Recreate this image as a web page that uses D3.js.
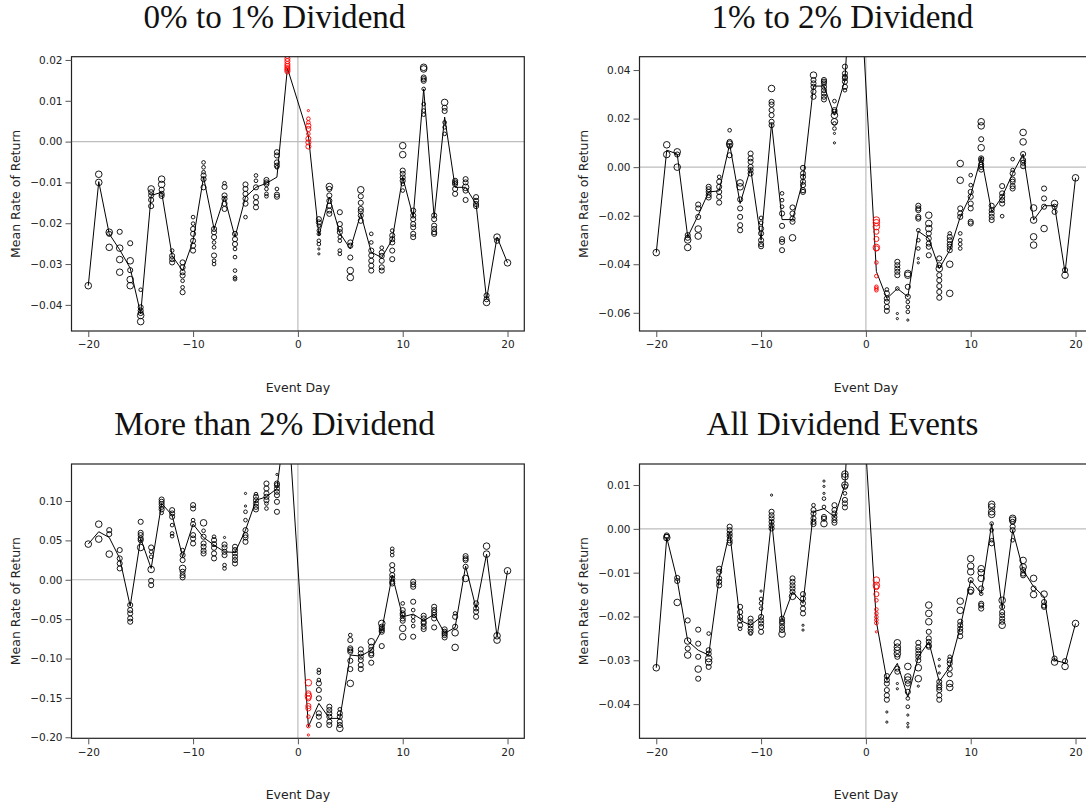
<!DOCTYPE html>
<html>
<head>
<meta charset="utf-8">
<script src="https://cdnjs.cloudflare.com/ajax/libs/d3/7.8.5/d3.min.js"></script>
<style>
  body { margin: 0; background: #fff; }
  text { font-family: "DejaVu Sans", sans-serif; fill: #222; }
  .title { font-family: "Liberation Serif", serif; fill: #111; }
  .tick line { stroke: #555; }
  .tick text { font-size: 10.5px; fill: #222; }
</style>
</head>
<body>
<div id="graph"></div>
<script>
// event days (day 0 itself is not in the data)
var days = [-20,-19,-18,-17,-16,-15,-14,-13,-12,-11,-10,-9,-8,-7,-6,-5,-4,-3,-2,-1,
            1,2,3,4,5,6,7,8,9,10,11,12,13,14,15,16,17,18,19,20];
var redDays = [-1, 1];
var titles = ["0% to 1% Dividend", "1% to 2% Dividend", "More than 2% Dividend", "All Dividend Events"];
var xTicks = [-20, -10, 0, 10, 20];
var yTicks1 = [-0.04, -0.03, -0.02, -0.01, 0, 0.01, 0.02];
var yTicks2 = [-0.06, -0.04, -0.02, 0, 0.02, 0.04];
var yTicks3 = [-0.20, -0.15, -0.10, -0.05, 0, 0.05, 0.10];
var yTicks4 = [-0.04, -0.03, -0.02, -0.01, 0, 0.01];

// mean rate of return per day
var mean1 = [-0.0353,-0.0098,-0.0226,-0.0265,-0.0310,-0.0422,-0.0132,-0.0124,-0.0280,-0.0316,-0.0243,-0.0087,-0.0214,-0.0136,-0.0234,-0.0136,-0.0112,-0.0102,-0.0087,0.0180,
             0.0015,-0.0230,-0.0136,-0.0224,-0.0263,-0.0177,-0.0271,-0.0284,-0.0240,-0.0087,-0.0185,0.0129,-0.0185,0.0060,-0.0112,-0.0112,-0.0153,-0.0386,-0.0234,-0.0297];
var mean2 = [-0.0352,0.0070,0.0054,-0.0287,-0.0198,-0.0102,-0.0098,0.0095,-0.0150,-0.0005,-0.0301,0.0180,-0.0216,-0.0216,-0.0054,0.0334,0.0334,0.0214,0.0359,0.110,
             -0.0430,-0.0541,-0.0500,-0.0534,-0.0264,-0.0294,-0.0418,-0.0342,-0.0205,-0.0115,0.0043,-0.0184,-0.0122,-0.0026,0.0054,-0.0218,-0.0159,-0.0159,-0.0434,-0.0044];
var mean3 = [0.0453,0.0610,0.0537,0.0271,-0.0334,0.0524,0.0144,0.0969,0.0820,0.0292,0.0706,0.0537,0.0440,0.0355,0.0347,0.0630,0.1010,0.1053,0.1159,0.221,
             -0.1865,-0.1570,-0.1760,-0.1760,-0.0956,-0.0969,-0.0893,-0.0639,0.0059,-0.0470,-0.0436,-0.0520,-0.0440,-0.0681,-0.0605,0.0173,-0.0364,0.0326,-0.0723,0.0114];
var mean4 = [-0.0317,-0.0020,-0.0117,-0.0256,-0.0277,-0.0288,-0.0112,-0.0007,-0.0209,-0.0220,-0.0201,0.0020,-0.0209,-0.0144,-0.0170,0.0039,0.0046,0.0027,0.0100,0.0565,
             -0.0212,-0.0345,-0.0307,-0.0384,-0.0292,-0.0258,-0.0349,-0.0315,-0.0224,-0.0117,-0.0148,0.0012,-0.0182,-0.0003,-0.0094,-0.0132,-0.0155,-0.0300,-0.0306,-0.0216];

// sub-group returns per day: [value, weight]
var points1 = [
  [[-0.0353,4]],
  [[-0.0080,4],[-0.0100,4]],
  [[-0.0222,4],[-0.0226,3],[-0.0259,4]],
  [[-0.0221,3],[-0.0261,4],[-0.0289,4],[-0.0320,4]],
  [[-0.0249,3],[-0.0292,4],[-0.0315,3],[-0.0338,4],[-0.0353,4]],
  [[-0.0363,2],[-0.0406,3],[-0.0414,3],[-0.0420,3],[-0.0426,4],[-0.0441,4]],
  [[-0.0116,4],[-0.0124,3],[-0.0132,3],[-0.0143,3],[-0.0158,3]],
  [[-0.0092,4],[-0.0105,4],[-0.0118,3],[-0.0128,3],[-0.0133,3]],
  [[-0.0267,2],[-0.0280,3],[-0.0288,3],[-0.0296,3]],
  [[-0.0296,3],[-0.0308,3],[-0.0320,3],[-0.0328,3],[-0.0341,2],[-0.0357,2],[-0.0369,3]],
  [[-0.0185,2],[-0.0201,2],[-0.0214,3],[-0.0226,3],[-0.0243,3],[-0.0255,3],[-0.0267,3]],
  [[-0.0051,2],[-0.0063,2],[-0.0075,2],[-0.0083,3],[-0.0092,3],[-0.0112,3]],
  [[-0.0214,3],[-0.0222,3],[-0.0234,3],[-0.0247,2],[-0.0259,2],[-0.0279,3],[-0.0292,2],[-0.0300,2]],
  [[-0.0102,2],[-0.0111,3],[-0.0132,3],[-0.0140,3],[-0.0152,3],[-0.0165,3]],
  [[-0.0226,3],[-0.0239,3],[-0.0251,3],[-0.0263,2],[-0.0283,2],[-0.0316,2],[-0.0333,2],[-0.0337,2]],
  [[-0.0105,3],[-0.0116,3],[-0.0128,3],[-0.0140,3],[-0.0152,3],[-0.0185,2]],
  [[-0.0083,2],[-0.0096,2],[-0.0112,3],[-0.0136,3],[-0.0149,3],[-0.0161,3]],
  [[-0.0094,3],[-0.0100,3],[-0.0104,3],[-0.0116,2],[-0.0128,2],[-0.0134,2]],
  [[-0.0026,3],[-0.0034,3],[-0.0051,3],[-0.0059,3],[-0.0063,2],[-0.0116,2],[-0.0130,3],[-0.0135,3]],
  [[0.0210,3],[0.0203,3],[0.0197,3],[0.0190,3],[0.0185,3],[0.0180,3],[0.0176,3],[0.0172,3]],
  [[0.0076,1],[0.0056,2],[0.0047,2],[0.0039,3],[0.0031,3],[0.0019,2],[0.0007,3],[-0.0002,3],[-0.0012,3]],
  [[-0.0190,3],[-0.0198,3],[-0.0206,2],[-0.0218,2],[-0.0226,2],[-0.0243,2],[-0.0251,2],[-0.0263,1],[-0.0275,1]],
  [[-0.0110,4],[-0.0116,3],[-0.0132,3],[-0.0145,3],[-0.0157,3],[-0.0169,3],[-0.0177,3]],
  [[-0.0173,3],[-0.0202,3],[-0.0214,3],[-0.0222,3],[-0.0234,2],[-0.0243,2],[-0.0267,2],[-0.0275,2]],
  [[-0.0247,3],[-0.0255,3],[-0.0284,3],[-0.0316,4],[-0.0333,4]],
  [[-0.0118,4],[-0.0134,3],[-0.0150,3],[-0.0165,3],[-0.0171,3],[-0.0181,3],[-0.0194,3]],
  [[-0.0226,2],[-0.0247,2],[-0.0267,3],[-0.0279,3],[-0.0292,3],[-0.0304,3],[-0.0316,3]],
  [[-0.0260,2],[-0.0272,3],[-0.0280,3],[-0.0292,3],[-0.0308,3],[-0.0316,3]],
  [[-0.0218,2],[-0.0230,3],[-0.0239,3],[-0.0247,3],[-0.0267,3],[-0.0288,3]],
  [[-0.0010,4],[-0.0032,4],[-0.0071,3],[-0.0079,3],[-0.0088,3],[-0.0096,3],[-0.0104,2],[-0.0120,2]],
  [[-0.0169,3],[-0.0181,3],[-0.0190,3],[-0.0202,3],[-0.0210,3],[-0.0226,3],[-0.0234,3]],
  [[0.0182,4],[0.0178,4],[0.0157,3],[0.0153,3],[0.0149,3],[0.0129,2],[0.0092,2],[0.0076,2],[0.0066,2]],
  [[-0.0181,3],[-0.0190,3],[-0.0206,3],[-0.0214,3],[-0.0222,3],[-0.0226,3]],
  [[0.0096,4],[0.0083,3],[0.0075,3],[0.0047,2],[0.0035,2],[0.0019,2]],
  [[-0.0096,3],[-0.0100,3],[-0.0104,3],[-0.0116,3],[-0.0128,3]],
  [[-0.0092,3],[-0.0100,3],[-0.0112,4],[-0.0120,3],[-0.0143,3]],
  [[-0.0136,3],[-0.0145,3],[-0.0153,3],[-0.0158,3]],
  [[-0.0377,3],[-0.0386,3],[-0.0394,4]],
  [[-0.0234,4],[-0.0243,3]],
  [[-0.0297,4]]
];
var points2 = [
  [[-0.0352,4]],
  [[0.0092,4],[0.0052,4]],
  [[0.0063,4],[0.0052,3],[0.0000,4]],
  [[-0.0280,3],[-0.0291,3],[-0.0300,4],[-0.0331,4]],
  [[-0.0154,3],[-0.0170,3],[-0.0205,3],[-0.0255,4],[-0.0284,4]],
  [[-0.0081,3],[-0.0091,3],[-0.0102,3],[-0.0115,3],[-0.0125,3]],
  [[-0.0040,2],[-0.0060,3],[-0.0081,3],[-0.0102,3],[-0.0122,3],[-0.0146,3]],
  [[0.0152,2],[0.0104,3],[0.0095,4],[0.0087,3],[0.0049,3]],
  [[-0.0065,4],[-0.0081,4],[-0.0133,3],[-0.0170,3],[-0.0205,3],[-0.0239,3],[-0.0260,3]],
  [[0.0056,3],[0.0036,3],[0.0022,3],[0.0001,3],[-0.0012,3],[-0.0026,3]],
  [[-0.0209,2],[-0.0229,2],[-0.0253,3],[-0.0273,3],[-0.0301,3],[-0.0317,3],[-0.0326,3]],
  [[0.0324,4],[0.0269,3],[0.0258,3],[0.0235,3],[0.0214,3],[0.0187,3],[0.0173,3]],
  [[-0.0108,2],[-0.0136,2],[-0.0163,2],[-0.0191,3],[-0.0242,3],[-0.0297,3],[-0.0308,3],[-0.0342,3]],
  [[-0.0166,3],[-0.0191,3],[-0.0212,3],[-0.0225,3],[-0.0291,4]],
  [[-0.0003,3],[-0.0026,3],[-0.0040,3],[-0.0060,3],[-0.0074,3],[-0.0095,3],[-0.0102,3]],
  [[0.0379,4],[0.0359,3],[0.0345,3],[0.0331,3],[0.0311,3],[0.0290,3]],
  [[0.0359,3],[0.0352,3],[0.0345,3],[0.0331,3],[0.0317,3],[0.0304,3],[0.0290,3],[0.0279,3]],
  [[0.0272,2],[0.0235,3],[0.0228,3],[0.0214,4],[0.0187,4],[0.0180,2],[0.0159,2],[0.0139,1],[0.0100,1]],
  [[0.0414,3],[0.0386,3],[0.0372,3],[0.0366,3],[0.0352,3],[0.0331,3],[0.0317,2]],
  [[0.115,3],[0.105,3],[0.098,3]],
  [[-0.0218,4],[-0.0229,4],[-0.0245,4],[-0.0266,3],[-0.0296,3],[-0.0331,4],[-0.0335,3],[-0.0393,2],[-0.0449,2],[-0.0493,2],[-0.0500,2],[-0.0507,2]],
  [[-0.0504,2],[-0.0520,3],[-0.0541,3],[-0.0555,3],[-0.0576,3],[-0.0592,3]],
  [[-0.0390,3],[-0.0404,3],[-0.0418,3],[-0.0431,3],[-0.0445,3],[-0.0500,2],[-0.0603,1],[-0.0624,1]],
  [[-0.0438,4],[-0.0445,4],[-0.0493,3],[-0.0534,3],[-0.0555,2],[-0.0576,2],[-0.0596,2],[-0.0630,1]],
  [[-0.0159,3],[-0.0170,3],[-0.0177,3],[-0.0205,3],[-0.0212,3],[-0.0260,2],[-0.0301,2],[-0.0335,2],[-0.0376,1],[-0.0394,1]],
  [[-0.0198,4],[-0.0232,4],[-0.0253,4],[-0.0273,3],[-0.0294,3],[-0.0315,3],[-0.0328,3],[-0.0363,3]],
  [[-0.0376,3],[-0.0404,3],[-0.0418,4],[-0.0445,3],[-0.0466,3],[-0.0490,3],[-0.0514,3],[-0.0538,3]],
  [[-0.0273,2],[-0.0287,3],[-0.0301,3],[-0.0317,3],[-0.0328,3],[-0.0342,3],[-0.0400,4],[-0.0520,4]],
  [[0.0015,4],[-0.0054,4],[-0.0170,3],[-0.0191,3],[-0.0205,3],[-0.0273,2],[-0.0301,2],[-0.0317,2],[-0.0335,2]],
  [[-0.0033,2],[-0.0074,2],[-0.0102,3],[-0.0122,3],[-0.0150,3],[-0.0170,3],[-0.0225,3],[-0.0232,3]],
  [[0.0187,4],[0.0170,4],[0.0115,3],[0.0080,4],[0.0036,3],[0.0029,3],[0.0012,3],[0.0001,3],[-0.0010,3]],
  [[-0.0159,3],[-0.0177,3],[-0.0191,3],[-0.0205,3],[-0.0218,3]],
  [[-0.0078,3],[-0.0108,3],[-0.0122,3],[-0.0136,3],[-0.0150,3],[-0.0202,2]],
  [[0.0033,2],[-0.0012,2],[-0.0026,3],[-0.0051,3],[-0.0060,3],[-0.0078,3],[-0.0088,3]],
  [[0.0143,4],[0.0104,4],[0.0054,3],[0.0029,3],[0.0018,3],[0.0004,3]],
  [[-0.0168,4],[-0.0218,4],[-0.0287,4],[-0.0321,4]],
  [[-0.0088,3],[-0.0129,3],[-0.0163,3],[-0.0253,4]],
  [[-0.0150,4],[-0.0163,3],[-0.0184,3]],
  [[-0.0424,3],[-0.0445,4]],
  [[-0.0044,4]]
];
var points3 = [
  [[0.0453,4]],
  [[0.0706,4],[0.0516,4]],
  [[0.0630,3],[0.0580,3],[0.0326,4]],
  [[0.0377,3],[0.0271,3],[0.0207,3],[0.0144,3]],
  [[-0.0321,3],[-0.0385,3],[-0.0427,3],[-0.0491,3],[-0.0533,3]],
  [[0.0736,3],[0.0596,3],[0.0567,3],[0.0524,3],[0.0503,3],[0.0410,4]],
  [[0.0410,3],[0.0355,2],[0.0292,2],[0.0131,4],[-0.0013,3],[-0.0068,3]],
  [[0.1019,3],[0.0990,3],[0.0960,3],[0.0926,3],[0.0893,3],[0.0850,2]],
  [[0.0884,3],[0.0842,3],[0.0800,3],[0.0694,2],[0.0588,2],[0.0554,2]],
  [[0.0377,2],[0.0313,3],[0.0250,3],[0.0144,4],[0.0102,3],[0.0059,3],[0.0030,3]],
  [[0.0948,3],[0.0905,3],[0.0757,2],[0.0706,3],[0.0567,3],[0.0524,3],[0.0461,3]],
  [[0.0723,4],[0.0622,2],[0.0546,3],[0.0461,3],[0.0419,3],[0.0368,3],[0.0334,3]],
  [[0.0546,2],[0.0503,3],[0.0453,3],[0.0406,3],[0.0334,3],[0.0271,3]],
  [[0.0537,1],[0.0448,3],[0.0410,3],[0.0355,3],[0.0313,3],[0.0186,2],[0.0144,2]],
  [[0.0419,3],[0.0377,3],[0.0334,3],[0.0292,3],[0.0250,3],[0.0207,3]],
  [[0.1096,1],[0.0936,1],[0.0863,2],[0.0757,2],[0.0630,3],[0.0567,3],[0.0537,3],[0.0482,3]],
  [[0.1087,2],[0.1053,3],[0.1010,3],[0.0968,3],[0.0926,3],[0.0893,3]],
  [[0.1222,3],[0.1159,3],[0.1096,3],[0.1053,3],[0.1010,3],[0.0968,2],[0.0905,2]],
  [[0.1337,1],[0.1222,3],[0.1201,3],[0.1159,3],[0.1117,3],[0.1074,3],[0.0990,3],[0.0863,3]],
  [[0.235,3],[0.220,3],[0.210,3]],
  [[-0.1307,4],[-0.1443,3],[-0.1477,4],[-0.1506,3],[-0.1603,3],[-0.1633,3],[-0.1739,2],[-0.1857,2],[-0.1971,1]],
  [[-0.1146,2],[-0.1180,2],[-0.1273,2],[-0.1316,3],[-0.1400,3],[-0.1506,3],[-0.1696,3],[-0.1739,3],[-0.1844,3]],
  [[-0.1612,3],[-0.1654,3],[-0.1696,3],[-0.1739,3],[-0.1802,3],[-0.1844,3]],
  [[-0.1645,2],[-0.1696,3],[-0.1739,3],[-0.1802,3],[-0.1844,3],[-0.1887,4]],
  [[-0.0702,2],[-0.0766,3],[-0.0871,3],[-0.0893,3],[-0.0914,3],[-0.1028,3],[-0.1134,3],[-0.1316,4]],
  [[-0.0884,3],[-0.0935,3],[-0.0977,3],[-0.1020,3],[-0.1083,3],[-0.1134,3]],
  [[-0.0787,4],[-0.0850,3],[-0.0893,3],[-0.0935,3],[-0.0956,3],[-0.1053,3]],
  [[-0.0554,4],[-0.0596,3],[-0.0617,3],[-0.0639,3],[-0.0660,3],[-0.0842,3]],
  [[0.0393,2],[0.0355,2],[0.0313,2],[0.0186,3],[0.0123,3],[0.0059,3],[0.0017,3],[-0.0025,3],[-0.0047,3]],
  [[-0.0300,2],[-0.0385,3],[-0.0427,3],[-0.0448,3],[-0.0491,3],[-0.0520,3],[-0.0617,4],[-0.0723,4]],
  [[-0.0025,3],[-0.0059,3],[-0.0089,3],[-0.0279,3],[-0.0385,2],[-0.0470,2],[-0.0520,2],[-0.0588,2],[-0.0723,3]],
  [[-0.0457,3],[-0.0491,3],[-0.0533,3],[-0.0554,3],[-0.0596,3],[-0.0626,3]],
  [[-0.0343,3],[-0.0385,3],[-0.0414,3],[-0.0448,3],[-0.0491,3],[-0.0605,3]],
  [[-0.0630,3],[-0.0660,3],[-0.0681,3],[-0.0702,3],[-0.0732,3]],
  [[-0.0427,2],[-0.0470,3],[-0.0596,3],[-0.0673,4],[-0.0859,4]],
  [[0.0300,3],[0.0271,3],[0.0250,3],[0.0165,3],[0.0017,4]],
  [[-0.0300,3],[-0.0364,3],[-0.0406,3],[-0.0470,3]],
  [[0.0427,4],[0.0326,4]],
  [[-0.0711,4],[-0.0766,4]],
  [[0.0114,4]]
];
var points4 = [
  [[-0.0317,4]],
  [[-0.0015,3],[-0.0018,3],[-0.0020,4]],
  [[-0.0112,3],[-0.0119,3],[-0.0168,4]],
  [[-0.0209,3],[-0.0256,4],[-0.0273,3],[-0.0288,4]],
  [[-0.0230,3],[-0.0262,3],[-0.0292,3],[-0.0320,4],[-0.0342,3]],
  [[-0.0239,2],[-0.0277,3],[-0.0285,3],[-0.0296,4],[-0.0304,4],[-0.0315,3]],
  [[-0.0091,3],[-0.0098,3],[-0.0113,3],[-0.0121,3],[-0.0129,3]],
  [[0.0005,3],[-0.0003,3],[-0.0011,3],[-0.0017,3],[-0.0026,3],[-0.0032,3]],
  [[-0.0178,3],[-0.0190,3],[-0.0201,3],[-0.0209,3],[-0.0220,3],[-0.0228,2]],
  [[-0.0205,3],[-0.0213,3],[-0.0220,3],[-0.0228,3],[-0.0235,3],[-0.0239,2]],
  [[-0.0142,1],[-0.0160,2],[-0.0170,2],[-0.0182,2],[-0.0201,3],[-0.0209,3],[-0.0216,3],[-0.0224,3],[-0.0235,3]],
  [[0.0077,1],[0.0039,3],[0.0031,3],[0.0024,3],[0.0016,3],[0.0008,3],[0.0001,3]],
  [[-0.0205,3],[-0.0211,3],[-0.0216,3],[-0.0224,3],[-0.0231,3],[-0.0240,4]],
  [[-0.0113,3],[-0.0121,3],[-0.0129,3],[-0.0136,3],[-0.0144,3],[-0.0154,4]],
  [[-0.0149,3],[-0.0159,3],[-0.0170,3],[-0.0182,3],[-0.0193,3],[-0.0220,1],[-0.0231,1]],
  [[0.0054,2],[0.0043,3],[0.0035,3],[0.0024,3],[0.0016,3],[0.0011,3]],
  [[0.0109,1],[0.0097,1],[0.0081,1],[0.0069,2],[0.0050,2],[0.0027,3],[0.0023,3],[0.0012,4]],
  [[0.0054,3],[0.0043,3],[0.0035,3],[0.0027,3],[0.0020,3],[0.0014,3]],
  [[0.0125,4],[0.0119,4],[0.0100,4],[0.0096,3],[0.0081,2],[0.0066,3],[0.0058,3],[0.0049,3]],
  [[0.065,3],[0.058,3],[0.050,3]],
  [[-0.0117,4],[-0.0129,4],[-0.0133,3],[-0.0149,3],[-0.0163,2],[-0.0184,2],[-0.0193,2],[-0.0201,2],[-0.0208,2],[-0.0215,2],[-0.0235,1]],
  [[-0.0336,3],[-0.0345,3],[-0.0353,3],[-0.0368,3],[-0.0380,3],[-0.0390,3],[-0.0418,1],[-0.0441,1]],
  [[-0.0260,4],[-0.0270,4],[-0.0277,4],[-0.0285,4],[-0.0292,3],[-0.0319,3],[-0.0326,3],[-0.0353,1],[-0.0365,1]],
  [[-0.0314,4],[-0.0338,4],[-0.0345,4],[-0.0353,3],[-0.0372,3],[-0.0387,2],[-0.0406,2],[-0.0425,1],[-0.0444,1],[-0.0452,1]],
  [[-0.0260,3],[-0.0270,3],[-0.0277,3],[-0.0285,3],[-0.0292,3],[-0.0300,3],[-0.0317,4],[-0.0342,4],[-0.0359,1]],
  [[-0.0174,4],[-0.0193,4],[-0.0212,4],[-0.0235,3],[-0.0250,3],[-0.0258,3],[-0.0266,3],[-0.0269,3]],
  [[-0.0298,1],[-0.0313,1],[-0.0329,1],[-0.0349,3],[-0.0357,3],[-0.0362,3],[-0.0368,3],[-0.0380,3],[-0.0390,3]],
  [[-0.0292,2],[-0.0300,3],[-0.0307,3],[-0.0319,3],[-0.0332,3],[-0.0353,4],[-0.0362,4]],
  [[-0.0165,4],[-0.0186,4],[-0.0212,3],[-0.0220,3],[-0.0228,3],[-0.0235,3],[-0.0245,3]],
  [[-0.0068,4],[-0.0085,4],[-0.0098,4],[-0.0117,3],[-0.0140,4],[-0.0144,3]],
  [[-0.0091,4],[-0.0100,4],[-0.0113,4],[-0.0136,3],[-0.0148,2],[-0.0171,3],[-0.0175,3],[-0.0182,3]],
  [[0.0056,4],[0.0050,4],[0.0039,4],[0.0033,4],[0.0012,2],[-0.0003,2],[-0.0026,2],[-0.0033,3]],
  [[-0.0163,4],[-0.0178,3],[-0.0190,3],[-0.0197,3],[-0.0205,3],[-0.0212,3],[-0.0220,4]],
  [[0.0024,4],[0.0020,4],[0.0016,3],[0.0005,3],[-0.0003,3],[-0.0026,2]],
  [[-0.0072,4],[-0.0087,4],[-0.0094,3],[-0.0102,3],[-0.0106,3]],
  [[-0.0113,4],[-0.0136,3],[-0.0150,4]],
  [[-0.0149,4],[-0.0167,3],[-0.0175,3],[-0.0178,3]],
  [[-0.0296,3],[-0.0304,4]],
  [[-0.0302,3],[-0.0314,4]],
  [[-0.0216,4]]
];

// panel setup
var panels = [
  { title: titles[0], mean: mean1, points: points1, ticks: yTicks1, domain: [-0.0464, 0.0208], col: 0, row: 0 },
  { title: titles[1], mean: mean2, points: points2, ticks: yTicks2, domain: [-0.0675, 0.0455], col: 1, row: 0 },
  { title: titles[2], mean: mean3, points: points3, ticks: yTicks3, domain: [-0.2013, 0.147], col: 0, row: 1 },
  { title: titles[3], mean: mean4, points: points4, ticks: yTicks4, domain: [-0.0478, 0.0148], col: 1, row: 1 }
];

var width = 1086, height = 805,
    margin = { top: 56.7, left: 71.5 },
    plotW = 452.8, plotH = 274.3,
    colStep = 568, rowStep = 407.3;

var svg = d3.select( "#graph" ).append( "svg" )
    .attr( "width", width )
    .attr( "height", height );

var x = d3.scaleLinear().domain( [ -21.6, 21.6 ] ).range( [ 0, plotW ] );
var r = d3.scaleLinear().domain( [ 1, 4 ] ).range( [ 1.1, 3.3 ] );

var line = d3.line()
    .x( function( d, j ){ return x( days[ j ] ); } );

panels.forEach( function( p, i ){

  var ox = p.col * colStep, oy = p.row * rowStep;
  var panel = svg.append( "g" ).attr( "transform", "translate(" + ox + "," + oy + ")" );
  var g = panel.append( "g" ).attr( "transform", "translate(" + margin.left + "," + margin.top + ")" );

  var y = d3.scaleLinear().domain( p.domain ).range( [ plotH, 0 ] );

  g.append( "clipPath" ).attr( "id", "clip" + i )
    .append( "rect" ).attr( "width", plotW ).attr( "height", plotH );

  var inner = g.append( "g" ).attr( "clip-path", "url(#clip" + i + ")" );

  // zero reference lines
  inner.append( "line" )
      .attr( "x1", 0 ).attr( "x2", plotW )
      .attr( "y1", y( 0 ) ).attr( "y2", y( 0 ) )
      .attr( "stroke", "#bdbdbd" ).attr( "stroke-width", 1.2 );
  inner.append( "line" )
      .attr( "x1", x( 0 ) ).attr( "x2", x( 0 ) )
      .attr( "y1", 0 ).attr( "y2", plotH )
      .attr( "stroke", "#bdbdbd" ).attr( "stroke-width", 1.2 );

  // mean line
  inner.append( "path" )
      .datum( p.mean )
      .attr( "d", line.y( function( d ){ return y( d ); } ) )
      .attr( "fill", "none" )
      .attr( "stroke", "#000" )
      .attr( "stroke-width", 1 );

  // sub-group circles
  var flat = [];
  p.points.forEach( function( list, j ){
    list.forEach( function( pt ){
      flat.push( { day: days[ j ], value: pt[ 0 ], w: pt[ 1 ] } );
    } );
  } );

  inner.selectAll( "circle" )
      .data( flat )
    .enter().append( "circle" )
      .attr( "cx", function( d ){ return x( d.day ); } )
      .attr( "cy", function( d ){ return y( d.value ); } )
      .attr( "r", function( d ){ return r( d.w ); } )
      .attr( "fill", "none" )
      .attr( "stroke", function( d ){ return redDays.indexOf( d.day ) >= 0 ? "#ff0000" : "#000"; } )
      .attr( "stroke-width", 0.9 );

  // frame
  g.append( "rect" )
      .attr( "width", plotW ).attr( "height", plotH )
      .attr( "fill", "none" )
      .attr( "stroke", "#222" )
      .attr( "stroke-width", 1.2 );

  // axes
  var xAxis = g.append( "g" )
      .attr( "transform", "translate(0," + plotH + ")" )
      .call( d3.axisBottom( x ).tickValues( xTicks ).tickSize( 6 ).tickPadding( 4 ).tickFormat( d3.format( "d" ) ) );
  xAxis.select( ".domain" ).remove();

  var yAxis = g.append( "g" )
      .call( d3.axisLeft( y ).tickValues( p.ticks ).tickSize( 6 ).tickPadding( 3 ).tickFormat( d3.format( ".2f" ) ) );
  yAxis.select( ".domain" ).remove();

  // labels
  panel.append( "text" )
      .attr( "transform", "translate(16," + ( margin.top + plotH / 2 ) + ") rotate(-90)" )
      .attr( "text-anchor", "middle" )
      .attr( "dy", "0.35em" )
      .style( "font-size", "12.5px" )
      .text( "Mean Rate of Return" );

  panel.append( "text" )
      .attr( "x", margin.left + plotW / 2 )
      .attr( "y", 387.7 )
      .attr( "text-anchor", "middle" )
      .attr( "dy", "0.35em" )
      .style( "font-size", "12.5px" )
      .text( "Event Day" );

  panel.append( "text" )
      .attr( "class", "title" )
      .attr( "x", 274.5 )
      .attr( "y", 28 )
      .attr( "text-anchor", "middle" )
      .style( "font-size", "30px" )
      .text( p.title );
} );

// fit the title size to the reference width of the first title
var titleNodes = svg.selectAll( ".title" );
var firstLen = titleNodes.node().getComputedTextLength();
var fitted = 30 * 262 / firstLen;
titleNodes.style( "font-size", fitted + "px" );
</script>
</body>
</html>
